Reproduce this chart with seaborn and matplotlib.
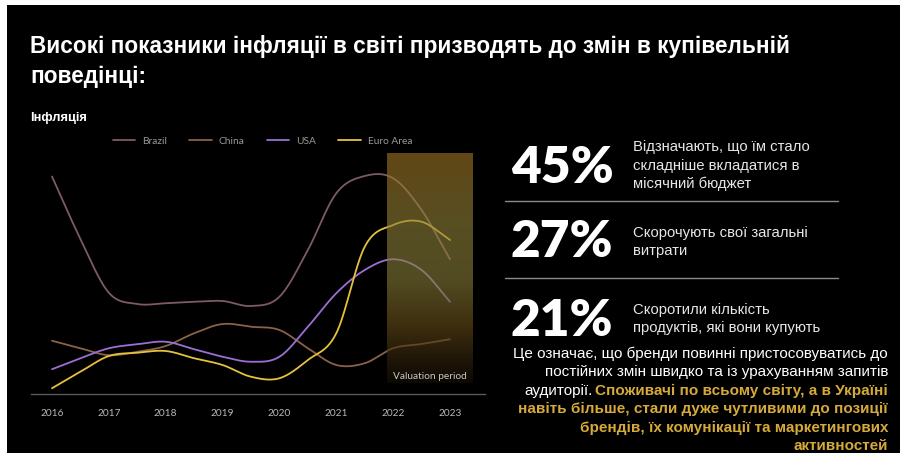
import numpy as np
import pandas as pd
import matplotlib
matplotlib.use("Agg")
import matplotlib.pyplot as plt
import seaborn as sns
from matplotlib.patches import Rectangle

# ---------------- data (half-year resolution) ----------------
years = [2016, 2016.5, 2017, 2017.5, 2018, 2018.5, 2019, 2019.5, 2020,
         2020.5, 2021, 2021.5, 2022, 2022.5, 2023]
brazil = [8.7, 6.2, 4.05, 3.6, 3.63, 3.69, 3.72, 3.52, 3.89, 5.76, 8.03, 8.72, 8.63, 7.36, 5.39]
china = [2.13, 1.83, 1.55, 1.69, 1.92, 2.43, 2.8, 2.69, 2.56, 1.83, 1.16, 1.23, 1.83, 2.0, 2.19]
usa = [0.99, 1.43, 1.83, 1.99, 2.09, 1.79, 1.49, 1.29, 1.49, 2.69, 4.03, 4.96, 5.39, 4.96, 3.69]
euro = [0.23, 0.89, 1.52, 1.65, 1.72, 1.43, 1.16, 0.69, 0.63, 1.36, 2.43, 5.89, 6.76, 6.89, 6.16]
series_names = ["Brazil", "China", "USA", "Euro Area"]
tick_years = [2016, 2017, 2018, 2019, 2020, 2021, 2022, 2023]
valuation_period = (2021.9, 2023.4)

stats = ["45%", "27%", "21%"]
stat_texts = [
    ["Відзначають, що їм стало", "складніше вкладатися в", "місячний бюджет"],
    ["Скорочують свої загальні", "витрати"],
    ["Скоротили кількість", "продуктів, які вони купують"],
]

colors = {"Brazil": "#7e5a68", "China": "#8a6249", "USA": "#9b6fd6", "Euro Area": "#e6c23c"}
GOLD = "#d6aa3a"


def smooth(x, y, n=25):
    """Catmull-Rom style cubic Hermite through the given points (display smoothing)."""
    x = np.asarray(x, float)
    y = np.asarray(y, float)
    m = np.zeros_like(y)
    m[1:-1] = (y[2:] - y[:-2]) / (x[2:] - x[:-2])
    m[0] = (y[1] - y[0]) / (x[1] - x[0])
    m[-1] = (y[-1] - y[-2]) / (x[-1] - x[-2])
    xs, ys = [], []
    for i in range(len(x) - 1):
        h = x[i + 1] - x[i]
        t = np.linspace(0, 1, n, endpoint=(i == len(x) - 2))
        h00 = 2 * t**3 - 3 * t**2 + 1
        h10 = t**3 - 2 * t**2 + t
        h01 = -2 * t**3 + 3 * t**2
        h11 = t**3 - t**2
        xs.append(x[i] + t * h)
        ys.append(h00 * y[i] + h10 * h * m[i] + h01 * y[i + 1] + h11 * h * m[i + 1])
    return np.concatenate(xs), np.concatenate(ys)


frames = []
for name, vals in zip(series_names, [brazil, china, usa, euro]):
    sx, sy = smooth(years, vals)
    frames.append(pd.DataFrame({"year": sx, "value": sy, "series": name}))
df = pd.concat(frames, ignore_index=True)

# ---------------- figure ----------------
sns.set_theme(style="white")
plt.rcParams["font.family"] = ["Liberation Sans", "DejaVu Sans"]

W, H = 900, 453
fig = plt.figure(figsize=(9, 4.53), dpi=100, facecolor="white")
fig.patches.append(Rectangle((7 / W, 0), 1 - 7 / W, 1 - 5 / H, transform=fig.transFigure,
                             facecolor="black", edgecolor="none", zorder=-10))


def P(x, y):
    return x / W, 1 - y / H


# chart axes
ax_l, ax_r, ax_b, ax_t = 31, 485, 394, 150
ax = fig.add_axes([ax_l / W, 1 - ax_b / H, (ax_r - ax_l) / W, (ax_b - ax_t) / H])
ax.set_facecolor("none")

sns.lineplot(data=df, x="year", y="value", hue="series", hue_order=series_names,
             palette=colors, sort=False, estimator=None, linewidth=1.3, ax=ax, zorder=2)

ax.set_xlim(2016 - 21 / 56.86, 2023 + 35 / 56.86)
ax.set_ylim(0, 9.76)
ax.set_xticks(tick_years)
ax.set_xticklabels([str(t) for t in tick_years], family="Lato", fontsize=7.3, color="#b8b8b8")
ax.set_yticks([])
ax.set_xlabel("")
ax.set_ylabel("")
ax.tick_params(axis="x", length=0, pad=11)
for s in ["top", "right", "left"]:
    ax.spines[s].set_visible(False)
ax.spines["bottom"].set_color("#5a5a5a")
ax.spines["bottom"].set_linewidth(1.0)

# valuation period overlay (gradient)
nrow = 200
pos = np.linspace(0, 1, nrow)[:, None]  # 0 = top
stops_p = [0.0, 0.3, 0.55, 0.75, 0.9, 1.0]
stops_c = [(0.62, 0.45, 0.14), (0.56, 0.50, 0.22), (0.52, 0.48, 0.22),
           (0.40, 0.30, 0.10), (0.20, 0.14, 0.05), (0.08, 0.06, 0.02)]
rgb = np.zeros((nrow, 1, 4))
for k in range(3):
    rgb[:, 0, k] = np.interp(pos[:, 0], stops_p, [c[k] for c in stops_c])
rgb[:, 0, 3] = 0.62
ax.imshow(rgb, extent=[valuation_period[0], valuation_period[1], 0.44, 9.64],
          aspect="auto", zorder=3, interpolation="bilinear")
ax.text(np.mean(valuation_period), 0.7, "Valuation period", ha="center", va="center",
        family="Lato", fontsize=7.3, color="#c8c8c8", zorder=4)

leg = ax.legend(ncol=4, loc="lower center", bbox_to_anchor=(0.51, 1.0), frameon=False,
                handlelength=2.2, handletextpad=0.7, columnspacing=2.2,
                prop={"family": "Lato", "size": 7.3}, labelcolor="#9a9a9a", borderaxespad=0.0)
for line in leg.get_lines():
    line.set_linewidth(1.3)

# ---------------- texts ----------------
fig.text(*P(30, 47), "Високі показники інфляції в світі призводять до змін в купівельній",
         fontsize=16.3, fontweight="bold", color="white", va="center", ha="left")
fig.text(*P(30, 76), "поведінці:", fontsize=16.3, fontweight="bold", color="white",
         va="center", ha="left")
fig.text(*P(30, 118), "Інфляція", fontsize=9.3, fontweight="bold", color="white",
         va="center", ha="left")

num_baselines = [183, 257, 336]
text_rows = [[147, 166, 184], [233, 251], [310, 328]]
for st, base, lines, rows in zip(stats, num_baselines, stat_texts, text_rows):
    fig.text(*P(511, base), st, family="Lato", fontweight="heavy", fontsize=37,
             color="white", ha="left", va="baseline")
    for ln, yy in zip(lines, rows):
        fig.text(*P(633, yy), ln, fontsize=10.7, color="#e6e6e6", ha="left", va="center")

for yy in [201, 278]:
    fig.add_artist(plt.Line2D([505 / W, 838 / W], [1 - yy / H, 1 - yy / H],
                              transform=fig.transFigure, color="#8a8a8a", linewidth=1))

para_y = [354, 372, 391, 409, 428, 446]
RX = 888
fig.text(*P(RX, para_y[0]), "Це означає, що бренди повинні пристосовуватись до",
         fontsize=11, color="white", ha="right", va="center")
fig.text(*P(RX, para_y[1]), "постійних змін швидко та із урахуванням запитів",
         fontsize=11, color="white", ha="right", va="center")
gold3 = fig.text(*P(RX, para_y[2]), "Споживачі по всьому світу, а в Україні",
                 fontsize=11, fontweight="bold", color=GOLD, ha="right", va="center")
fig.canvas.draw()
bb = gold3.get_window_extent(renderer=fig.canvas.get_renderer())
fig.text(bb.x0 / (fig.dpi * 9) - 3 / W, 1 - para_y[2] / H, "аудиторії.",
         fontsize=11, color="white", ha="right", va="center")
fig.text(*P(RX, para_y[3]), "навіть більше, стали дуже чутливими до позиції",
         fontsize=11, fontweight="bold", color=GOLD, ha="right", va="center")
fig.text(*P(RX, para_y[4]), "брендів, їх комунікації та маркетингових",
         fontsize=11, fontweight="bold", color=GOLD, ha="right", va="center")
fig.text(*P(RX, para_y[5]), "активностей",
         fontsize=11, fontweight="bold", color=GOLD, ha="right", va="center")

fig.savefig("out.png", dpi=100, facecolor=fig.get_facecolor())
